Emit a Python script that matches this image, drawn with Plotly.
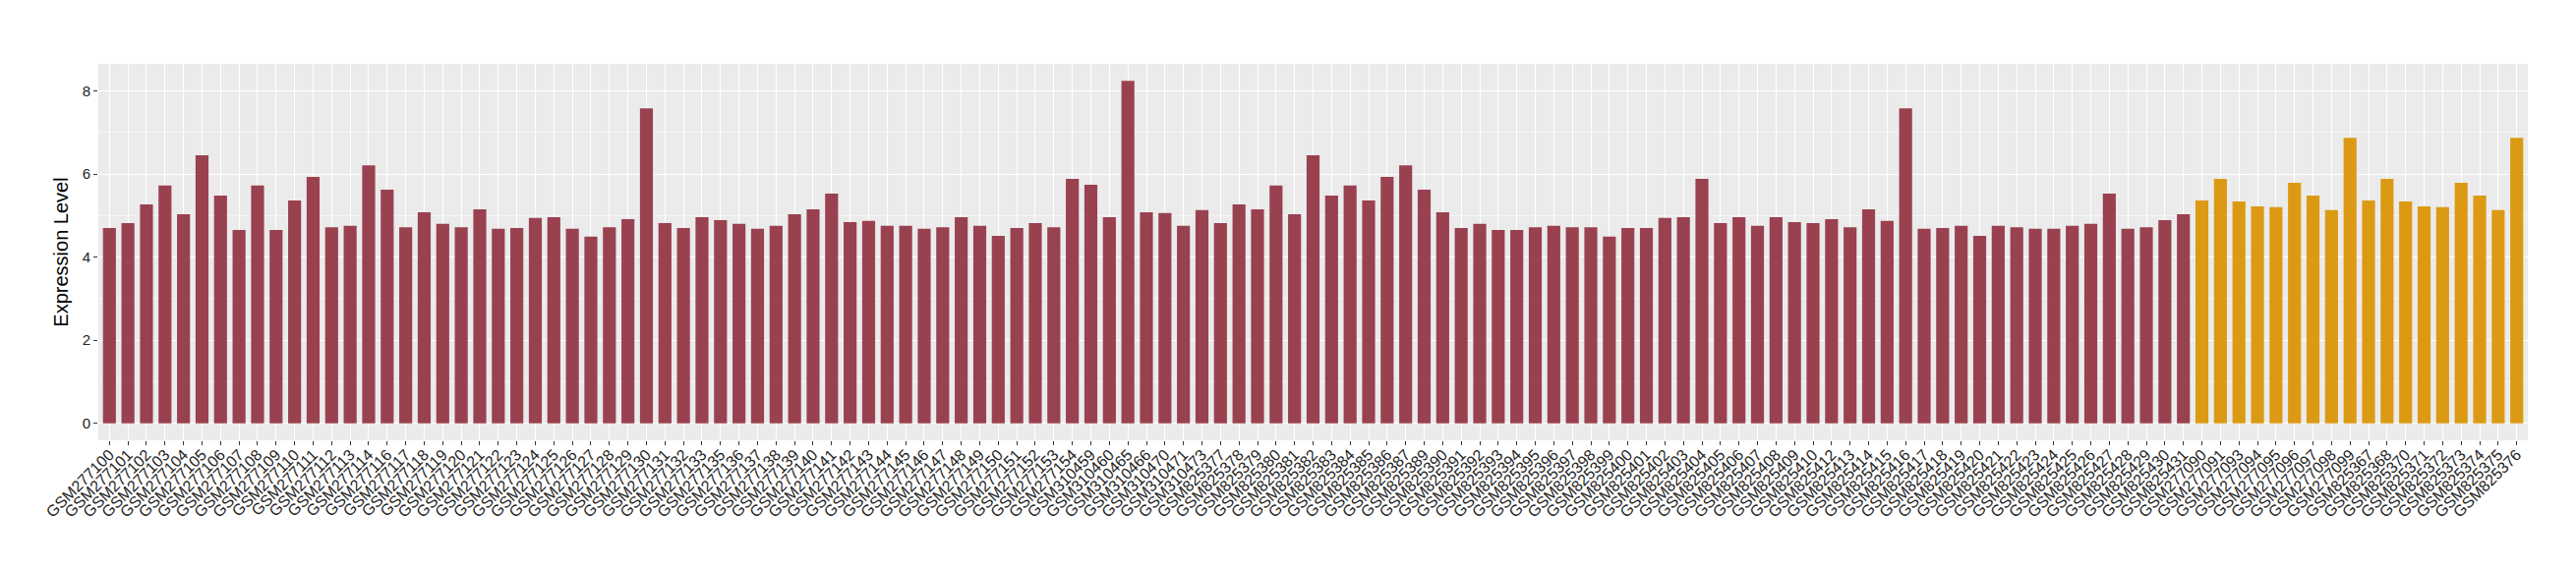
import plotly.graph_objects as go

# ---- data ----
group1_samples = [
    "GSM277100", "GSM277101", "GSM277102", "GSM277103", "GSM277104", "GSM277105",
    "GSM277106", "GSM277107", "GSM277108", "GSM277109", "GSM277110", "GSM277111",
    "GSM277112", "GSM277113", "GSM277114", "GSM277116", "GSM277117", "GSM277118",
    "GSM277119", "GSM277120", "GSM277121", "GSM277122", "GSM277123", "GSM277124",
    "GSM277125", "GSM277126", "GSM277127", "GSM277128", "GSM277129", "GSM277130",
    "GSM277131", "GSM277132", "GSM277133", "GSM277135", "GSM277136", "GSM277137",
    "GSM277138", "GSM277139", "GSM277140", "GSM277141", "GSM277142", "GSM277143",
    "GSM277144", "GSM277145", "GSM277146", "GSM277147", "GSM277148", "GSM277149",
    "GSM277150", "GSM277151", "GSM277152", "GSM277153", "GSM277154",
    "GSM310459", "GSM310460", "GSM310465", "GSM310466", "GSM310470", "GSM310471",
    "GSM310473",
    "GSM825377", "GSM825378", "GSM825379", "GSM825380", "GSM825381", "GSM825382",
    "GSM825383", "GSM825384", "GSM825385", "GSM825386", "GSM825387", "GSM825389",
    "GSM825390", "GSM825391", "GSM825392", "GSM825393", "GSM825394", "GSM825395",
    "GSM825396", "GSM825397", "GSM825398", "GSM825399", "GSM825400", "GSM825401",
    "GSM825402", "GSM825403", "GSM825404", "GSM825405", "GSM825406", "GSM825407",
    "GSM825408", "GSM825409", "GSM825410", "GSM825412", "GSM825413", "GSM825414",
    "GSM825415", "GSM825416", "GSM825417", "GSM825418", "GSM825419", "GSM825420",
    "GSM825421", "GSM825422", "GSM825423", "GSM825424", "GSM825425", "GSM825426",
    "GSM825427", "GSM825428", "GSM825429", "GSM825430", "GSM825431",
]
group1_values = [
    4.70, 4.82, 5.27, 5.72, 5.03, 6.45,
    5.48, 4.65, 5.72, 4.65, 5.36, 5.93,
    4.72, 4.75, 6.21, 5.62, 4.72, 5.08,
    4.80, 4.72, 5.15, 4.68, 4.70, 4.94,
    4.96, 4.68, 4.49, 4.72, 4.91, 7.58,
    4.82, 4.70, 4.96, 4.89, 4.80, 4.68,
    4.75, 5.03, 5.15, 5.53, 4.84, 4.87,
    4.75, 4.75, 4.68, 4.72, 4.96, 4.75,
    4.51, 4.70, 4.82, 4.72, 5.88,
    5.74, 4.96, 8.24, 5.08, 5.06, 4.75,
    5.13,
    4.82, 5.27, 5.15, 5.72, 5.03, 6.45,
    5.48, 5.72, 5.36, 5.93, 6.21, 5.62,
    5.08, 4.70, 4.80, 4.65, 4.65, 4.72,
    4.75, 4.72, 4.72, 4.49, 4.70, 4.70,
    4.94, 4.96, 5.88, 4.82, 4.96, 4.75,
    4.96, 4.84, 4.82, 4.91, 4.72, 5.15,
    4.87, 7.58, 4.68, 4.70, 4.75, 4.51,
    4.75, 4.72, 4.68, 4.68, 4.75, 4.80,
    5.53, 4.68, 4.72, 4.89, 5.03,
]
group2_samples = [
    "GSM277090", "GSM277091", "GSM277093", "GSM277094", "GSM277095", "GSM277096",
    "GSM277097", "GSM277098", "GSM277099",
    "GSM825367", "GSM825368", "GSM825370", "GSM825371", "GSM825372", "GSM825373",
    "GSM825374", "GSM825375", "GSM825376",
]
group2_values = [
    5.36, 5.88, 5.34, 5.22, 5.20, 5.79,
    5.48, 5.13, 6.87,
    5.36, 5.88, 5.34, 5.22, 5.20, 5.79,
    5.48, 5.13, 6.87,
]
y_tick_values = [0, 2, 4, 6, 8]
y_title = "Expression Level"

RED = "#9A4150"
ORANGE = "#DC9A14"
FONT = "Liberation Sans"

all_samples = group1_samples + group2_samples

fig = go.Figure()
fig.add_trace(go.Bar(x=group1_samples, y=group1_values, marker_color=RED,
                     marker_line_width=0, width=0.7, showlegend=False))
fig.add_trace(go.Bar(x=group2_samples, y=group2_values, marker_color=ORANGE,
                     marker_line_width=0, width=0.7, showlegend=False))

fig.update_layout(
    width=2620, height=580,
    margin=dict(l=92, r=57, t=57, b=140),
    paper_bgcolor="white",
    plot_bgcolor="#EBEBEB",
    barmode="overlay",
    font=dict(family=FONT, color="#333333"),
)
fig.update_xaxes(
    type="category",
    categoryorder="array", categoryarray=all_samples,
    range=[-0.6, len(all_samples) - 0.4],
    tickmode="array", tickvals=all_samples, ticktext=all_samples,
    showgrid=True, gridcolor="white", gridwidth=1.1,
    ticks="outside", ticklen=4, tickwidth=1, tickcolor="#333333",
    tickangle=-45, tickfont=dict(size=16, color="#222222", family=FONT),
    ticklabelstandoff=-6,
    showline=False, zeroline=False,
)
fig.update_yaxes(
    range=[-0.41, 8.65],
    tickvals=y_tick_values,
    showgrid=True, gridcolor="white", gridwidth=1.1,
    minor=dict(dtick=1, tick0=0, showgrid=True, gridcolor="#F5F5F5", gridwidth=0.6),
    ticks="outside", ticklen=4, tickwidth=1, tickcolor="#333333",
    tickfont=dict(size=15, color="#222222", family=FONT),
    title=dict(text=y_title, font=dict(size=20, color="black", family=FONT), standoff=8),
    showline=False, zeroline=False,
)

fig.write_html("out.html")
